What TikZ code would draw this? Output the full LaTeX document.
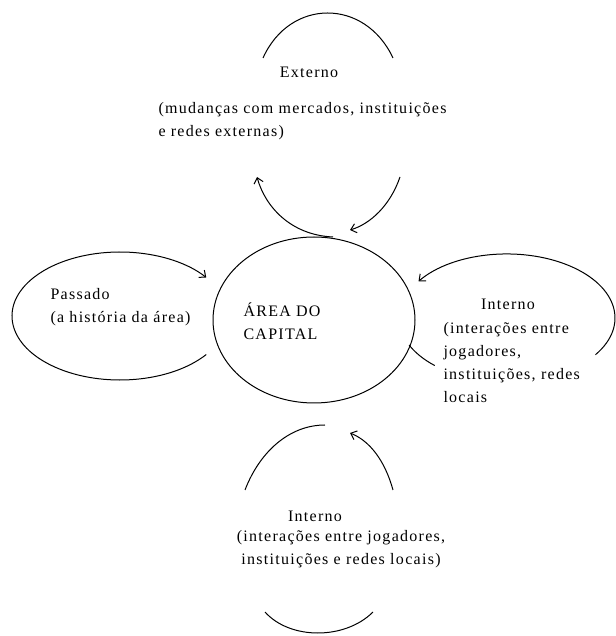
\documentclass[tikz,border=0pt]{standalone}
\usepackage{fontspec}
\setmainfont{Liberation Serif}[LetterSpace = 8]
\usetikzlibrary{shapes.geometric, arrows.meta}
\begin{document}
\begin{tikzpicture}[x = 0.75pt, y = 0.75pt, line width = 0.75pt, > = {Straight Barb[length = 4pt, width = 7pt]},
        txt/.style = {font = \fontsize{12}{17.25}\selectfont, inner sep = 0pt, align = left}]
        \useasboundingbox (0, 0) rectangle (616, 636);
        \node[draw, ellipse, minimum width = 151.5pt, minimum height = 124.5pt] (capital) at (314, 316) {};
        \node[txt, anchor = base west] (capitaltxt) at (243, 296) {ÁREA DO\\CAPITAL};
        \draw (263, 578) .. controls (290, 638) and (365, 638) .. (393, 578);
        \draw[->] (333, 399) .. controls (290, 401) and (265, 430) .. (257, 459);
        \draw[->] (400, 459) .. controls (390, 430) and (370, 412) .. (350, 406);
        \node[txt, anchor = base] (externo) at (309, 558) {Externo};
        \node[txt, anchor = base west] (externotxt) at (158, 499) {(mudanças com mercados, instituições\\e redes externas)};
        \draw[->] (120, 320) ++(-37:108 and 64) arc[start angle = -37, end angle = -323, x radius = 108, y radius = 64];
        \node[txt, anchor = base west] (passado) at (50, 313) {Passado\\(a história da área)};
        \draw[->] (507, 318) ++(-35:108 and 64) arc[start angle = -35, end angle = 145, x radius = 108, y radius = 64];
        \draw (507, 318) ++(205:108 and 64) arc[start angle = 205, end angle = 228, x radius = 108, y radius = 64];
        \node[txt, anchor = base] (internodir) at (508, 326) {Interno};
        \node[txt, anchor = base west] (internodirtxt) at (443, 233) {(interações entre\\jogadores,\\instituições, redes\\locais};
        \draw (245, 146) .. controls (260, 185) and (290, 211) .. (325, 211);
        \draw[->] (393, 146) .. controls (385, 175) and (370, 195) .. (350, 203);
        \draw (265, 24) .. controls (290, -4) and (345, -4) .. (373, 24);
        \node[txt, anchor = base] (internobaixo) at (315, 114) {Interno};
        \node[txt, align = center, anchor = base] (internobaixotxt) at (341, 71) {(interações entre jogadores,\\instituições e redes locais)};
    \end{tikzpicture}
\end{document}
